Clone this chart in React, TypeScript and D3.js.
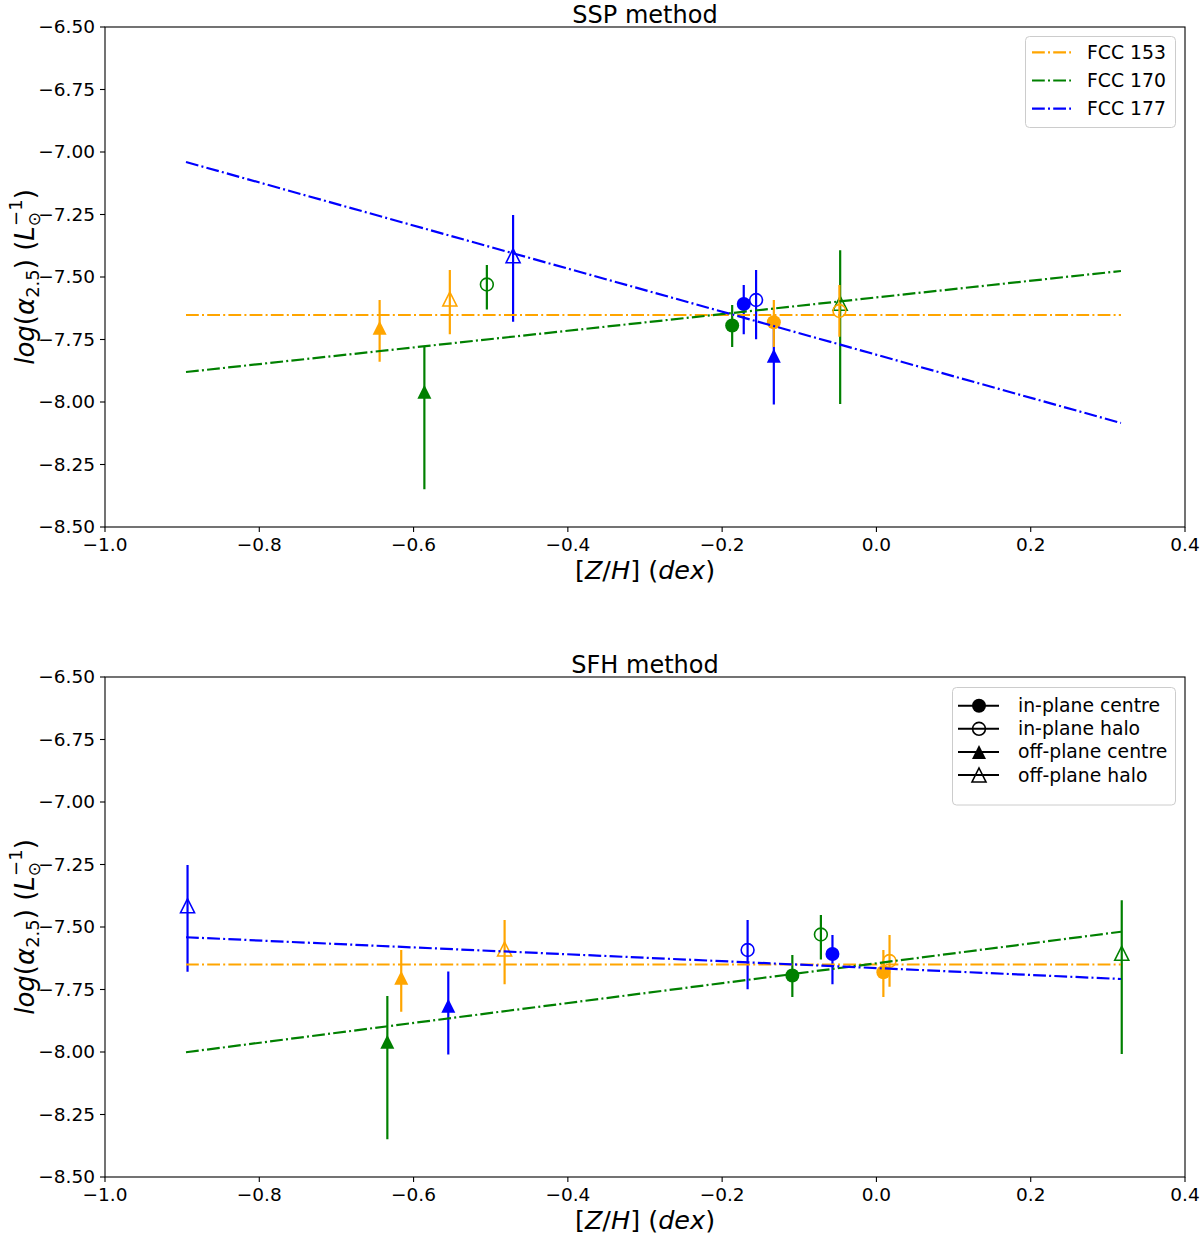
import * as d3 from 'd3'

// galaxies and their colours
const galaxies = ['FCC 153', 'FCC 170', 'FCC 177']
const colours = ['#ffa500', '#008000', '#0000ff']

// regions, in the order used by every array below
const regions = ['in-plane centre', 'in-plane halo', 'off-plane centre', 'off-plane halo']
const filledRegion = [true, false, true, false]
const triangleRegion = [false, false, true, true]

// log(alpha_2.5), same in both panels
const alpha153 = [-7.681, -7.636, -7.703, -7.588]
const alpha170 = [-7.694, -7.53, -7.959, -7.605]
const alpha177 = [-7.608, -7.592, -7.815, -7.415]
const alphaHi153 = [-7.592, -7.532, -7.592, -7.472]
const alphaHi170 = [-7.612, -7.452, -7.776, -7.393]
const alphaHi177 = [-7.532, -7.472, -7.678, -7.252]
const alphaLo153 = [-7.78, -7.739, -7.839, -7.729]
const alphaLo170 = [-7.78, -7.63, -8.349, -8.008]
const alphaLo177 = [-7.729, -7.749, -8.01, -7.679]

// [Z/H] from the SSP fits
const sspZH153 = [-0.133, -0.048, -0.644, -0.553]
const sspZH170 = [-0.187, -0.505, -0.586, -0.047]
const sspZH177 = [-0.172, -0.156, -0.133, -0.471]

// [Z/H] from the SFH fits
const sfhZH153 = [0.009, 0.017, -0.616, -0.482]
const sfhZH170 = [-0.109, -0.072, -0.634, 0.318]
const sfhZH177 = [-0.057, -0.167, -0.555, -0.893]

// linear fits, evaluated at the ends of the range
const fitZH = [-0.895, 0.317]
const sspFit153 = [-7.652, -7.652]
const sspFit170 = [-7.88, -7.476]
const sspFit177 = [-7.04, -8.084]
const sfhFit153 = [-7.65, -7.65]
const sfhFit170 = [-8.001, -7.519]
const sfhFit177 = [-7.541, -7.708]

const xTicks = [-1.0, -0.8, -0.6, -0.4, -0.2, 0.0, 0.2, 0.4]
const yTicks = [-6.5, -6.75, -7.0, -7.25, -7.5, -7.75, -8.0, -8.25, -8.5]

const alpha = [alpha153, alpha170, alpha177]
const alphaHi = [alphaHi153, alphaHi170, alphaHi177]
const alphaLo = [alphaLo153, alphaLo170, alphaLo177]

const font = 'DejaVu Sans, sans-serif'
const dash = '12.8,3.2,2,3.2'
const left = 105
const right = 1185
const plotH = 500
// blue first, orange last: orange sits on top where they overlap
const drawOrder = [2, 1, 0]

function Marker({ cx, cy, colour, filled, triangle, s = 7 }: any) {
    const fill = filled ? colour : 'none'
    const sw = filled ? 0 : 1.6
    if (triangle) {
        return (
            <path
                d={`M${cx},${cy - s} L${cx + s},${cy + s} L${cx - s},${cy + s} Z`}
                fill={fill}
                stroke={colour}
                strokeWidth={sw}
            />
        )
    }
    return <circle cx={cx} cy={cy} r={filled ? s : s - 0.6} fill={fill} stroke={colour} strokeWidth={sw} />
}

function Panel({ top, title, zh, fits, legend }: any) {
    const x = d3.scaleLinear().domain([-1, 0.4]).range([left, right])
    const y = d3.scaleLinear().domain([-6.5, -8.5]).range([top, top + plotH])
    const xFmt = d3.format('.1f')
    const yFmt = d3.format('.2f')
    const line = d3
        .line<[number, number]>()
        .x((d) => x(d[0]))
        .y((d) => y(d[1]))

    return (
        <g fontFamily={font}>
            <text x={(left + right) / 2} y={top - 4.5} textAnchor="middle" fontSize={24}>
                {title}
            </text>

            {/* points with error bars */}
            {drawOrder.map((gi) =>
                regions.map((r, ri) => {
                    const cx = x(zh[gi][ri])
                    return (
                        <g key={galaxies[gi] + r}>
                            <line
                                x1={cx}
                                x2={cx}
                                y1={y(alphaLo[gi][ri])}
                                y2={y(alphaHi[gi][ri])}
                                stroke={colours[gi]}
                                strokeWidth={2.2}
                            />
                            <Marker
                                cx={cx}
                                cy={y(alpha[gi][ri])}
                                colour={colours[gi]}
                                filled={filledRegion[ri]}
                                triangle={triangleRegion[ri]}
                            />
                        </g>
                    )
                })
            )}

            {/* fits */}
            {fits.map((f: number[], gi: number) => (
                <path
                    key={gi}
                    d={line(fitZH.map((v, i) => [v, f[i]]) as [number, number][]) || ''}
                    fill="none"
                    stroke={colours[gi]}
                    strokeWidth={2.2}
                    strokeDasharray={dash}
                />
            ))}

            {/* frame */}
            <rect x={left} y={top} width={right - left} height={plotH} fill="none" stroke="#000" strokeWidth={1.1} />

            {xTicks.map((t) => (
                <g key={t}>
                    <line x1={x(t)} x2={x(t)} y1={top + plotH} y2={top + plotH + 5} stroke="#000" strokeWidth={1.1} />
                    <text x={x(t)} y={top + plotH + 24} textAnchor="middle" fontSize={18.5}>
                        {xFmt(t)}
                    </text>
                </g>
            ))}
            {yTicks.map((t) => (
                <g key={t}>
                    <line x1={left - 5} x2={left} y1={y(t)} y2={y(t)} stroke="#000" strokeWidth={1.1} />
                    <text x={left - 10} y={y(t)} dy="0.35em" textAnchor="end" fontSize={18.5}>
                        {yFmt(t)}
                    </text>
                </g>
            ))}

            {/* axis labels */}
            <text x={(left + right) / 2} y={top + plotH + 52} textAnchor="middle" fontSize={25.5}>
                [<tspan fontStyle="italic">Z</tspan>/<tspan fontStyle="italic">H</tspan>] (
                <tspan fontStyle="italic">dex</tspan>)
            </text>
            <text transform={`translate(34,${top + plotH / 2}) rotate(-90)`} textAnchor="middle" fontSize={26}>
                <tspan fontStyle="italic">log</tspan>(<tspan fontStyle="italic">α</tspan>
                <tspan fontSize={18} dy={5}>
                    2.5
                </tspan>
                <tspan dy={-5}>) (</tspan>
                <tspan fontStyle="italic">L</tspan>
                <tspan fontSize={17} dy={6}>
                    ⊙
                </tspan>
                <tspan fontSize={18} dx={-14} dy={-18}>
                    −1
                </tspan>
                <tspan dy={12}>)</tspan>
            </text>

            {legend === 'galaxies' && (
                <g>
                    <rect x={1025.5} y={36.5} width={150} height={91} rx={4} fill="#fff" fillOpacity={0.8} stroke="#cccccc" />
                    {galaxies.map((g, gi) => {
                        const ly = 52.3 + gi * 28.2
                        return (
                            <g key={g}>
                                <line x1={1032} x2={1071} y1={ly} y2={ly} stroke={colours[gi]} strokeWidth={2.2} strokeDasharray={dash} />
                                <text x={1087} y={ly} dy="0.35em" fontSize={18.8}>
                                    {g}
                                </text>
                            </g>
                        )
                    })}
                </g>
            )}
            {legend === 'regions' && (
                <g>
                    <rect x={952.5} y={687.5} width={223} height={117.5} rx={4} fill="#fff" fillOpacity={0.8} stroke="#cccccc" />
                    {regions.map((r, ri) => {
                        const ly = 705.7 + ri * 23.1
                        return (
                            <g key={r}>
                                <line x1={958} x2={999} y1={ly} y2={ly} stroke="#000" strokeWidth={2} />
                                <Marker
                                    cx={979}
                                    cy={ly}
                                    colour="#000"
                                    filled={filledRegion[ri]}
                                    triangle={triangleRegion[ri]}
                                />
                                <text x={1018} y={ly} dy="0.35em" fontSize={18.8}>
                                    {r}
                                </text>
                            </g>
                        )
                    })}
                </g>
            )}
        </g>
    )
}

export default function App() {
    return (
        <div style={{ position: 'absolute', left: 0, top: 0 }}>
            <svg width={1200} height={1234} style={{ display: 'block', background: 'white' }}>
                <Panel
                    top={27}
                    title="SSP method"
                    zh={[sspZH153, sspZH170, sspZH177]}
                    fits={[sspFit153, sspFit170, sspFit177]}
                    legend="galaxies"
                />
                <Panel
                    top={677}
                    title="SFH method"
                    zh={[sfhZH153, sfhZH170, sfhZH177]}
                    fits={[sfhFit153, sfhFit170, sfhFit177]}
                    legend="regions"
                />
            </svg>
        </div>
    )
}
